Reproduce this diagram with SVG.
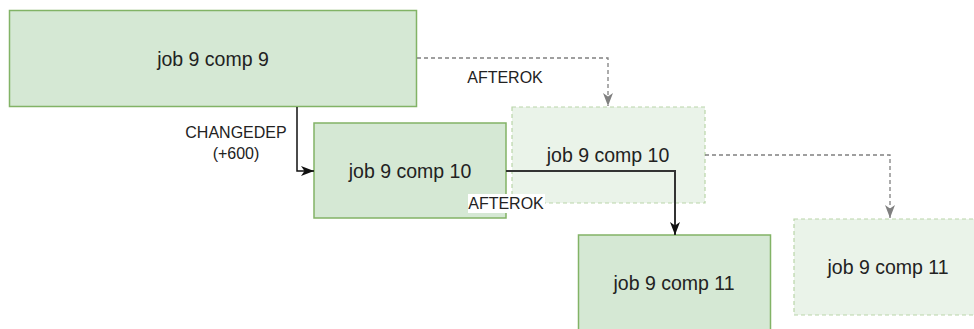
<svg xmlns="http://www.w3.org/2000/svg" width="974" height="329" viewBox="0 0 974 329">
  <style>
    .node { fill: #d5e8d4; stroke: #82b366; stroke-width: 1.5; }
    .ghost { fill: #eaf3e9; stroke: #b9d6a9; stroke-width: 1.2; stroke-dasharray: 4 3; }
    .label { font-family: "Liberation Sans", Arial, sans-serif; font-size: 19.5px; fill: #222; text-anchor: middle; dominant-baseline: central; }
    .edge-label { font-family: "Liberation Sans", Arial, sans-serif; font-size: 16px; fill: #222; text-anchor: middle; dominant-baseline: central; }
    .link { fill: none; }
    .solid { stroke: #111; stroke-width: 1.5; }
    .solid-bold { stroke: #333; stroke-width: 2; }
    .dashed { stroke: #808080; stroke-width: 1.3; stroke-dasharray: 4 3; }
  </style>
  <defs>
    <marker id="arrow-dark" markerUnits="userSpaceOnUse" markerWidth="13" markerHeight="12" viewBox="0 0 13 12" refX="13" refY="6" orient="auto">
      <path d="M0,1 L13,6 L0,11 L3.5,6 Z" fill="#111"/>
    </marker>
    <marker id="arrow-gray" markerUnits="userSpaceOnUse" markerWidth="13" markerHeight="12" viewBox="0 0 13 12" refX="13" refY="6" orient="auto">
      <path d="M0,1 L13,6 L0,11 L3.5,6 Z" fill="#808080"/>
    </marker>
  </defs>

  <!-- jobs -->
  <g id="job9-comp9">
    <rect class="node" x="9.5" y="10.5" width="407" height="96"/>
    <text class="label" x="213" y="59">job 9 comp 9</text>
  </g>
  <g id="job9-comp10">
    <rect class="node" x="314" y="123" width="192" height="95"/>
    <text class="label" x="410" y="171">job 9 comp 10</text>
  </g>
  <g id="job9-comp10-planned">
    <rect class="ghost" x="512" y="107" width="193" height="96"/>
    <text class="label" x="608" y="155">job 9 comp 10</text>
  </g>
  <g id="job9-comp11">
    <rect class="node" x="578.5" y="235" width="192" height="96"/>
    <text class="label" x="674" y="283">job 9 comp 11</text>
  </g>
  <g id="job9-comp11-planned">
    <rect class="ghost" x="794" y="219" width="192" height="96"/>
    <text class="label" x="888" y="267">job 9 comp 11</text>
  </g>

  <!-- dependencies -->
  <g id="connectors">
    <path class="link dashed" d="M417,58 H608 V106" marker-end="url(#arrow-gray)"/>
    <text class="edge-label" x="505" y="77">AFTEROK</text>

    <path class="link solid" d="M297,107 V171 H314" marker-end="url(#arrow-dark)"/>
    <text class="edge-label" x="236" y="132">CHANGEDEP</text>
    <text class="edge-label" x="236" y="153">(+600)</text>

    <path class="link dashed" d="M705,155 H890 V218" marker-end="url(#arrow-gray)"/>

    <path class="link solid-bold" d="M506,171 H675 V235" marker-end="url(#arrow-dark)"/>
    <rect x="468" y="194" width="77" height="19" fill="#ffffff"/>
    <text class="edge-label" x="506" y="203">AFTEROK</text>
  </g>
</svg>
